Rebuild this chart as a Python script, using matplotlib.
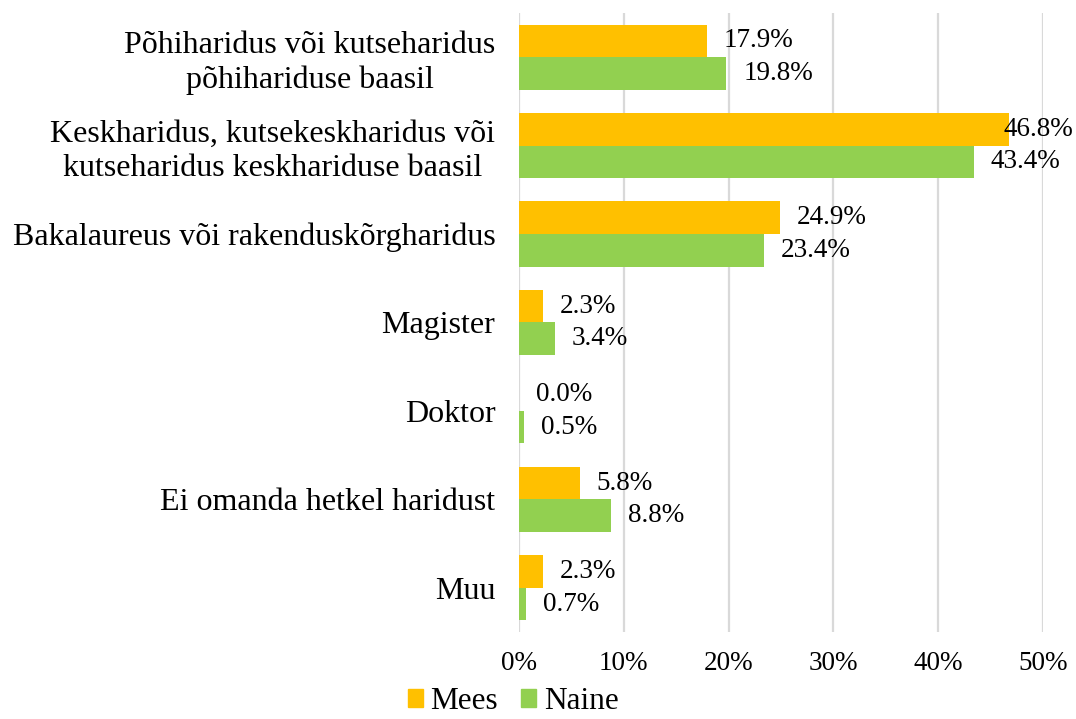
import numpy as np
import matplotlib
matplotlib.use('Agg')
import matplotlib.pyplot as plt
import matplotlib.ticker as ticker
from matplotlib.patches import Patch

plt.rcParams['font.family'] = ['Liberation Serif', 'DejaVu Serif']

# andmed
kategooriad = [
    'Põhiharidus või kutseharidus\npõhihariduse baasil',
    'Keskharidus, kutsekeskharidus või\nkutseharidus keskhariduse baasil',
    'Bakalaureus või rakenduskõrgharidus',
    'Magister',
    'Doktor',
    'Ei omanda hetkel haridust',
    'Muu',
]
mees = [17.9, 46.8, 24.9, 2.3, 0.0, 5.8, 2.3]
naine = [19.8, 43.4, 23.4, 3.4, 0.5, 8.8, 0.7]
x_ticks = [0, 10, 20, 30, 40, 50]

C_MEES, C_NAINE = '#FFC000', '#92D050'
BAR_H = 0.368
LBL_OFF = 1.6      # sildi nihe (%)
LBL_MAX = 46.2     # silt ei lähe joonisest välja

fig = plt.figure(figsize=(10.76, 7.19), dpi=100)
ax = fig.add_axes([0.4823, 0.121, 0.4870, 0.861])

y = np.arange(len(kategooriad))
ax.barh(y - BAR_H / 2, mees, height=BAR_H, color=C_MEES, label='Mees', zorder=3)
ax.barh(y + BAR_H / 2, naine, height=BAR_H, color=C_NAINE, label='Naine', zorder=3)

for yy, v in zip(y - BAR_H / 2, mees):
    ax.text(min(v + LBL_OFF, LBL_MAX), yy, f'{v:.1f}%', va='center', ha='left', fontsize=19.5, zorder=4)
for yy, v in zip(y + BAR_H / 2, naine):
    ax.text(min(v + LBL_OFF, LBL_MAX), yy, f'{v:.1f}%', va='center', ha='left', fontsize=19.5, zorder=4)

ax.set_ylim(len(kategooriad) - 0.5, -0.5)
ax.set_xlim(0, 50)
ax.set_yticks(y)
ax.set_yticklabels(kategooriad, fontsize=23, linespacing=1.22, ha='right', multialignment='center')
ax.set_xticks(x_ticks)
ax.xaxis.set_major_formatter(ticker.FuncFormatter(lambda v, p: f'{v:.0f}%'))
ax.tick_params(axis='x', labelsize=19.5, length=0, pad=14)
ax.tick_params(axis='y', length=0, pad=17)
ax.grid(axis='x', color='#D9D9D9', lw=1.6, zorder=0)
for s in ax.spines.values():
    s.set_visible(False)

handles = [Patch(color=C_MEES, label='Mees'), Patch(color=C_NAINE, label='Naine')]
fig.legend(handles=handles, loc='center', bbox_to_anchor=(0.477, 0.024), ncol=2, frameon=False,
           fontsize=22.5, handlelength=0.48, handleheight=0.48, handletextpad=0.25, columnspacing=0.75,
           borderpad=0.0)

fig.savefig('out.png', dpi=100)
